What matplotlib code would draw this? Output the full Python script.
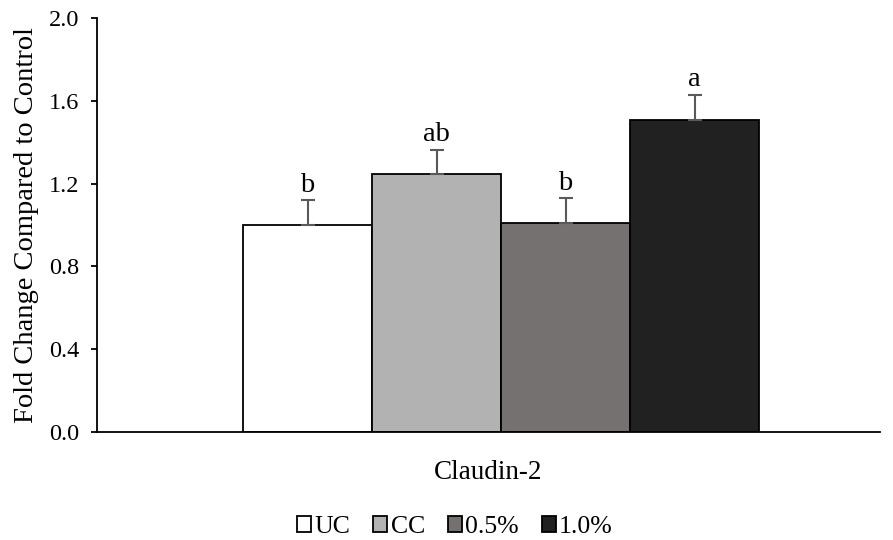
import matplotlib
matplotlib.use("Agg")
import matplotlib.pyplot as plt
from matplotlib.patches import Patch

plt.rcParams['font.family'] = ['Liberation Serif', 'DejaVu Serif']

groups = ["UC", "CC", "0.5%", "1.0%"]
values = [1.00, 1.245, 1.008, 1.507]
errors = [0.12, 0.118, 0.122, 0.122]
letters = ["b", "ab", "b", "a"]
colors = ["#ffffff", "#b2b2b2", "#767171", "#212121"]
category = "Claudin-2"
yticks = [0.0, 0.4, 0.8, 1.2, 1.6, 2.0]

fig = plt.figure(figsize=(8.93, 5.40), dpi=100)
ax = fig.add_axes([97/893, 1-432/540, 783/893, 414/540])

x = list(range(len(groups)))
for xi, v, e, c, lab, g in zip(x, values, errors, colors, letters, groups):
    ax.bar(xi, v, width=1.0, color=c, edgecolor="black", linewidth=1.3, label=g, zorder=2)
    ax.errorbar(xi, v, yerr=[[0], [e]], fmt="none", ecolor="#595959", elinewidth=1.5,
                capsize=4.7, capthick=1.5, zorder=3)
    ax.text(xi, v + e + 0.012, lab, ha="center", va="bottom", fontsize=20.5)

ax.set_xlim(-1.632, 4.438)
ax.set_ylim(0, 2.0)
ax.set_yticks(yticks)
ax.set_yticklabels([f"{t:.1f}" for t in yticks], fontsize=17.5)
ax.set_xticks([])
ax.spines['top'].set_visible(False)
ax.spines['right'].set_visible(False)
ax.spines['left'].set_linewidth(1.3)
ax.spines['bottom'].set_linewidth(1.3)
ax.tick_params(axis='y', direction='out', length=4, width=1.3, pad=9)
ax.set_ylabel("Fold Change Compared to Control", fontsize=20.5, labelpad=7)
ax.set_xlabel(category, fontsize=19.5, labelpad=20)

handles = [Patch(facecolor=c, edgecolor="black", linewidth=1.3) for c in colors]
fig.legend(handles, groups, loc="center", bbox_to_anchor=(455/893, 1-527/540), ncol=4,
           frameon=False, fontsize=18.5, handlelength=0.55, handleheight=0.55,
           handletextpad=0.12, columnspacing=0.9)

fig.savefig("out.png", dpi=100)
